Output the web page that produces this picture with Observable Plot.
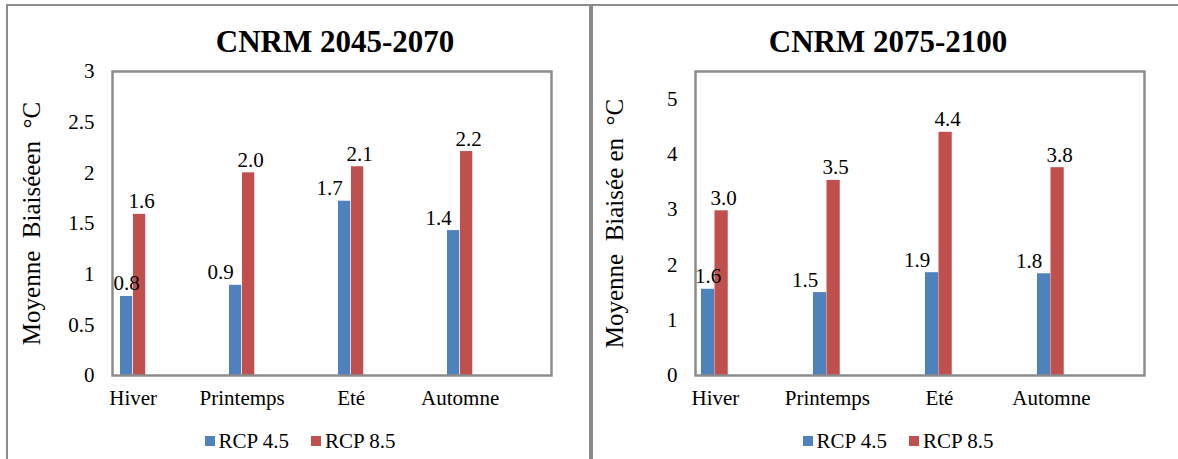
<!DOCTYPE html>
<html>
<head>
<meta charset="utf-8">
<script src="https://cdn.jsdelivr.net/npm/d3@7"></script>
<script src="https://cdn.jsdelivr.net/npm/@observablehq/plot@0.6"></script>
<style>
  html, body { margin: 0; padding: 0; background: #fff; }
  body { width: 1178px; height: 459px; position: relative; overflow: hidden; font-family: "Liberation Serif", "Times New Roman", serif; color: #000; }
  .hline { position: absolute; left: 7px; top: 4px; width: 1171px; height: 0; border-top: 2px solid #8c8c8c; }
  .vleft { position: absolute; left: 6px; top: 4px; width: 0; height: 455px; border-left: 2px solid #8c8c8c; }
  .vmid { position: absolute; left: 589px; top: 4px; width: 0; height: 455px; border-left: 4px solid #8a8a8a; }
  .title { position: absolute; top: 24px; width: 420px; text-align: center; font-weight: bold; font-size: 31px; line-height: 36px; }
  .chart { position: absolute; top: 55px; }
  .legend { position: absolute; top: 429px; display: flex; justify-content: center; align-items: center; font-size: 21px; line-height: 24px; }
  .legend .item { display: flex; align-items: center; margin: 0 11px; }
  .legend .sw { width: 10px; height: 10px; margin-right: 4px; }
</style>
</head>
<body>
<div class="hline"></div>
<div class="vleft"></div>
<div class="vmid"></div>
<div id="root"></div>
<script>
// ---- data ----
const categories = ["Hiver", "Printemps", "Eté", "Automne"];
const series = ["RCP 4.5", "RCP 8.5"];
const colors = ["#4F81BD", "#C0504D"];
const titles = ["CNRM 2045-2070", "CNRM 2075-2100"];
const yLabels = ["Moyenne  Biaiséeen  °C", "Moyenne  Biaisée en  °C"];
const left45 = [0.78, 0.89, 1.72, 1.43];
const left85 = [1.59, 2.00, 2.06, 2.21];
const right45 = [1.56, 1.50, 1.86, 1.84];
const right85 = [2.98, 3.53, 4.40, 3.76];
const leftTicks = [0, 0.5, 1, 1.5, 2, 2.5, 3];
const rightTicks = [0, 1, 2, 3, 4, 5];
const leftMax = 3;
const rightMax = 5.5;

const fmt = d3.format(".1f");
const root = document.getElementById("root");

function panel(cfg) {
  const { left, width, ml, mr, v45, v85, ticks, ymax, title, ylabel, titleCenter, legendCenter, barOff, barW, labelOffset } = cfg;
  const height = 360, mt = 16, mb = 40;
  const bw = (width - ml - mr) / categories.length;
  const d45 = categories.map((c, i) => ({ cat: c, v: v45[i], i }));
  const d85 = categories.map((c, i) => ({ cat: c, v: v85[i], i }));
  const c45 = barOff + barW / 2 - bw / 2;
  const c85 = barOff + barW * 1.5 - bw / 2;
  const fs = 21;
  const chart = Plot.plot({
    width, height,
    marginLeft: ml, marginRight: mr, marginTop: mt, marginBottom: mb,
    style: { fontFamily: "'Liberation Serif', 'Times New Roman', serif", fontSize: fs + "px", color: "#000", background: "transparent" },
    x: { type: "band", domain: categories, padding: 0 },
    y: { domain: [0, ymax] },
    marks: [
      Plot.barY(d45, { x: "cat", y: "v", fill: colors[0], insetLeft: barOff, insetRight: bw - barOff - barW }),
      Plot.barY(d85, { x: "cat", y: "v", fill: colors[1], insetLeft: barOff + barW, insetRight: bw - barOff - 2 * barW }),
      Plot.frame({ stroke: "#8c8c8c", strokeWidth: 2.5 }),
      Plot.axisY({ ticks, tickSize: 0, tickPadding: 18, tickFormat: d => String(d), label: ylabel, labelAnchor: "center", labelOffset, labelArrow: "none", fontSize: fs }),
      Plot.axisX({ tickSize: 0, tickPadding: 15, dx: -bw / 2 + 19, label: null, fontSize: fs }),
      Plot.text(d45.filter(d => d.i === 0), { x: "cat", y: "v", text: d => fmt(d.v), dx: c45, dy: -6, lineAnchor: "bottom", fontSize: fs }),
      Plot.text(d45.filter(d => d.i > 0), { x: "cat", y: "v", text: d => fmt(d.v), dx: c45 - 15, dy: -6, lineAnchor: "bottom", fontSize: fs }),
      Plot.text(d85, { x: "cat", y: "v", text: d => fmt(d.v), dx: c85 + 2, dy: -6, lineAnchor: "bottom", fontSize: fs })
    ]
  });
  chart.querySelectorAll("[aria-label='y-axis label'] text").forEach(t => { t.setAttribute("font-size", "25"); t.style.whiteSpace = "pre"; });
  const wrap = document.createElement("div");
  wrap.className = "chart";
  wrap.style.left = left + "px";
  wrap.appendChild(chart);
  root.appendChild(wrap);

  const t = document.createElement("div");
  t.className = "title";
  t.textContent = title;
  t.style.left = (titleCenter - 210) + "px";
  root.appendChild(t);

  const lg = document.createElement("div");
  lg.className = "legend";
  lg.style.left = (legendCenter - 150) + "px";
  lg.style.width = "300px";
  series.forEach((s, k) => {
    const it = document.createElement("div");
    it.className = "item";
    const sw = document.createElement("div");
    sw.className = "sw";
    sw.style.background = colors[k];
    const tx = document.createElement("span");
    tx.textContent = s;
    it.appendChild(sw); it.appendChild(tx);
    lg.appendChild(it);
  });
  root.appendChild(lg);
}

panel({ left: 0, width: 591, ml: 112, mr: 40, v45: left45, v85: left85, ticks: leftTicks, ymax: leftMax,
  title: titles[0], ylabel: yLabels[0], titleCenter: 335, legendCenter: 300, barOff: 6, barW: 13, labelOffset: 90 });
panel({ left: 591, width: 587, ml: 104, mr: 34, v45: right45, v85: right85, ticks: rightTicks, ymax: rightMax,
  title: titles[1], ylabel: yLabels[1], titleCenter: 888, legendCenter: 898, barOff: 5, barW: 13.5, labelOffset: 90 });
</script>
</body>
</html>
